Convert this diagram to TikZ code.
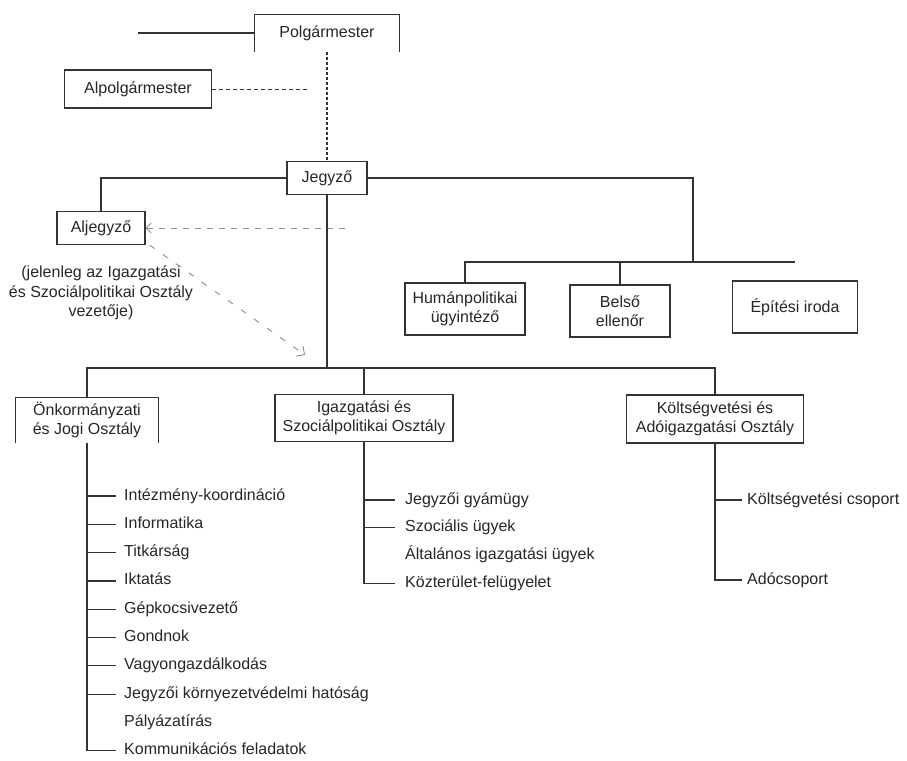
\documentclass[tikz,border=0pt]{standalone}
\usepackage{fontspec}
\setmainfont{Liberation Sans}
\usetikzlibrary{arrows.meta}

\begin{document}
\begin{tikzpicture}[x=1pt,y=-1pt,
  every node/.style={font=\fontsize{16}{19.5}\selectfont, text=black!85},
  unit/.style={draw=black!80, line width=1.2pt, align=center, inner sep=0pt},
  openunit/.style={align=center, inner sep=0pt},
  conn/.style={draw=black!80, line width=1.2pt},
  szaggatott/.style={draw=black!45, line width=0.9pt, dash pattern=on 6pt off 6pt},
  feladat/.style={anchor=west, inner sep=0pt, text height=11.5pt, text depth=3.5pt}]
\useasboundingbox (0,0) rectangle (907,760);
\node[openunit, minimum width=145, minimum height=37] (pm) at (327,33) {Polgármester};
\draw[conn] (pm.south west) -- (pm.north west) -- (pm.north east) -- (pm.south east);
\coordinate (pmbal) at (138,33);
\draw[conn] (pmbal) -- (pm.west);
\node[unit, minimum width=147, minimum height=38] (apm) at (138,89) {Alpolgármester};
\coordinate (apmvege) at (310,89);
\draw[conn, line width=1pt, dash pattern=on 4pt off 3pt] (apm.east) -- (apmvege);
\node[unit, minimum width=80, minimum height=33] (jz) at (327,178) {Jegyző};
\draw[conn, dash pattern=on 3pt off 2pt] (pm.south) -- (jz.north);
\node[unit, minimum width=88, minimum height=33] (ajz) at (101,228) {Aljegyző};
\draw[conn] (jz.west) -| (ajz.north);
\node[align=center] (megj) at (101,293) {(jelenleg az Igazgatási\\és Szociálpolitikai Osztály\\vezetője)};
\coordinate (ajzvege) at (350,228);
\draw[szaggatott, {Straight Barb[length=5pt]}-] (ajz.east) -- (ajzvege);
\coordinate (atlo) at (305,355);
\draw[szaggatott, dash pattern=on 6pt off 10pt, -{Straight Barb[length=6pt]}] ([xshift=4pt]ajz.south east) -- (atlo);
\coordinate (jobb) at (693,262);
\draw[conn] (jz.east) -| (jobb);
\node[unit, minimum width=120, minimum height=52] (hp) at (465,309) {Humánpolitikai\\ügyintéző};
\node[unit, minimum width=100, minimum height=52] (be) at (620,311) {Belső\\ellenőr};
\node[unit, minimum width=125, minimum height=52] (ep) at (795,307) {Építési iroda};
\draw[conn] (hp.north) -- (hp.north |- jobb) -- (ep.north |- jobb);
\draw[conn] (be.north) -- (be.north |- jobb);
\node[openunit, minimum width=142, minimum height=45] (ok) at (87,420) {Önkormányzati\\és Jogi Osztály};
\draw[conn] (ok.south west) -- (ok.north west) -- (ok.north east) -- (ok.south east);
\node[unit, minimum width=178, minimum height=47] (is) at (364,418) {Igazgatási és\\Szociálpolitikai Osztály};
\node[unit, minimum width=177, minimum height=48] (kt) at (715,419) {Költségvetési és\\Adóigazgatási Osztály};
\coordinate (also) at (327,368);
\draw[conn] (jz.south) -- (also);
\draw[conn] (ok.north) -- (ok.north |- also) -- (kt.north |- also) -- (kt.north);
\draw[conn] (is.north) -- (is.north |- also);
\foreach \szoveg [count=\i] in {Intézmény-koordináció, Informatika, Titkárság, Iktatás,
    Gépkocsivezető, Gondnok, Vagyongazdálkodás, Jegyzői környezetvédelmi hatóság,
    Pályázatírás, Kommunikációs feladatok}
  \node[feladat] (ok-\i) at (124,467.7+28.3*\i) {\szoveg};
\foreach \i in {1,...,8}
  \draw[conn] (ok-\i.west -| ok.south) -- ([xshift=-8pt]ok-\i.west);
\draw[conn] (ok.south) |- ([xshift=-8pt]ok-10.west);
\foreach \szoveg [count=\i] in {Jegyzői gyámügy, Szociális ügyek,
    Általános igazgatási ügyek, Közterület-felügyelet}
  \node[feladat] (is-\i) at (405,472.3+27.7*\i) {\szoveg};
\foreach \i in {1,2}
  \draw[conn] (is-\i.west -| is.south) -- ([xshift=-10pt]is-\i.west);
\draw[conn] (is.south) |- ([xshift=-10pt]is-4.west);
\node[feladat] (kt-1) at (747,500) {Költségvetési csoport};
\node[feladat] (kt-2) at (747,580) {Adócsoport};
\draw[conn] (kt-1.west -| kt.south) -- ([xshift=-5pt]kt-1.west);
\draw[conn] (kt.south) |- ([xshift=-5pt]kt-2.west);
\end{tikzpicture}
\end{document}
